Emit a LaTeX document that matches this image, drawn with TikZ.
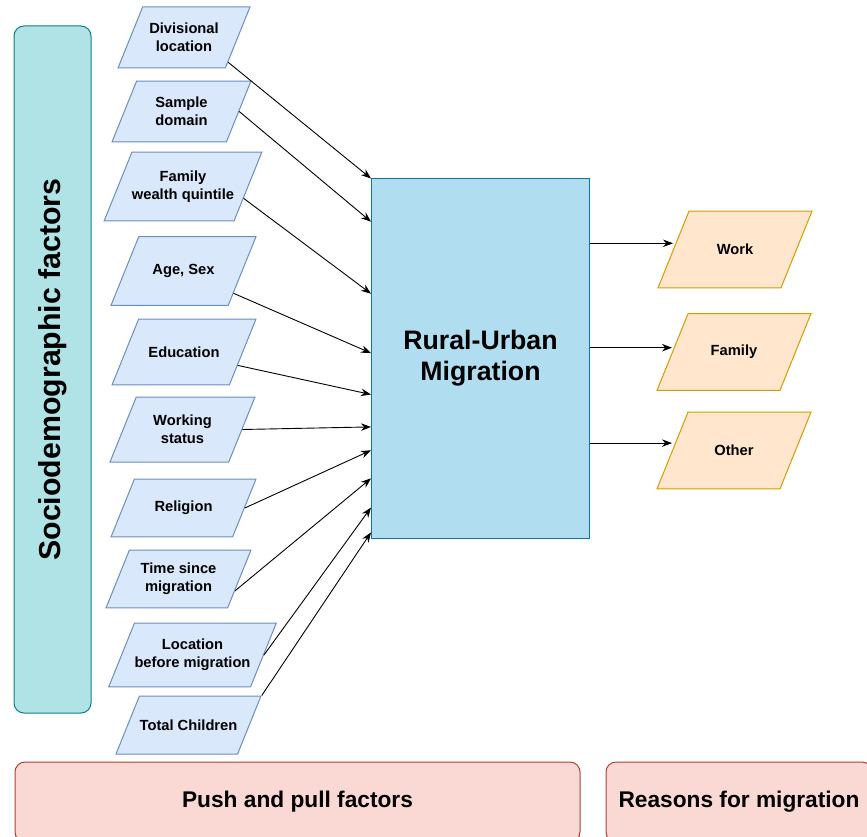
\documentclass[tikz,border=0pt]{standalone}
\usepackage{fontspec}
\setmainfont{Liberation Sans}
\usetikzlibrary{calc,shapes.geometric,arrows.meta}
\definecolor{socfill}{HTML}{B0E3E6}
\definecolor{socline}{HTML}{0E8088}
\definecolor{facfill}{HTML}{DAE8FC}
\definecolor{facline}{HTML}{6C8EBF}
\definecolor{rumfill}{HTML}{B1DDF0}
\definecolor{rumline}{HTML}{10739E}
\definecolor{rsnfill}{HTML}{FFE6CC}
\definecolor{rsnline}{HTML}{D79B00}
\definecolor{ppfill}{HTML}{FAD9D5}
\definecolor{ppline}{HTML}{AE4132}
\newcommand\smallbf{\fontsize{14.7}{17.6}\selectfont\bfseries}
\newcommand\midbf{\fontsize{22.7}{27}\selectfont\bfseries}
\newcommand\bigbf{\fontsize{26.7}{31}\selectfont\bfseries}
\newcommand\sidebf{\fontsize{30.3}{36}\selectfont\bfseries}
\tikzset{
	para/.style={trapezium, trapezium left angle=68, trapezium right angle=112,
		trapezium stretches body, line width=1pt, align=center, font=\smallbf,
		inner xsep=0pt},
	factor/.style={para, draw=facline, fill=facfill, minimum width=145pt},
	reason/.style={para, draw=rsnline, fill=rsnfill, minimum width=154pt},
	group/.style={draw, rounded corners=10pt, line width=1pt},
	arr/.style={line width=0.9pt, -{Stealth[length=10pt,width=7.5pt]}}
}
\begin{document}
\begin{tikzpicture}[x=1pt,y=-1pt]
		%%%%% START %%%%%
		\useasboundingbox (0,0) rectangle (867,837);
		
		\node[group, draw=socline, fill=socfill, rotate=90, minimum width=687pt, minimum height=77pt, font=\sidebf] (soc) at (52.5, 369.5) {Sociodemographic factors};
		
		\node[factor, minimum width=132pt, inner ysep=16.3pt] (div) at (184, 37.5) {Divisional\\location};
		\node[factor, minimum width=139pt, inner ysep=16.3pt] (smp) at (181.5, 111.5) {Sample\\domain};
		\node[factor, minimum width=144pt, inner ysep=18.8pt] (fam) at (183, 186.5) {Family\\wealth quintile};
		\node[factor, inner ysep=27.7pt] (age) at (183.5, 271) {Age, Sex};
		\node[factor, minimum width=144pt, inner ysep=27.6pt] (edu) at (184, 352) {Education};
		\node[factor, inner ysep=18.3pt] (wrs) at (182.5, 429.5) {Working\\status};
		\node[factor, inner ysep=22.1pt] (rel) at (183.5, 508) {Religion};
		\node[factor, inner ysep=13.3pt] (tsm) at (178.5, 579) {Time since\\migration};
		\node[factor, minimum width=161pt, inner ysep=16.3pt] (lbm) at (192.5, 655) {Location\\before migration};
		\node[factor, inner ysep=23.6pt] (tch) at (188.5, 725) {Total Children};
		
		\node[draw=rumline, fill=rumfill, line width=1pt, minimum width=218pt, minimum height=359pt, align=center, font=\bigbf] (rum) at (480.5, 358.5) {Rural-Urban\\Migration};
		
		\node[reason, inner ysep=33pt] (wrk) at (735, 249.5) {Work};
		\node[reason, inner ysep=31.6pt] (fly) at (734, 352) {Family};
		\node[reason, inner ysep=33pt] (oth) at (734, 450.5) {Other};
		
		\node[group, draw=ppline, fill=ppfill, minimum width=565pt, minimum height=80pt, font=\midbf] (ppf) at (297.5, 802) {Push and pull factors};
		\node[group, draw=ppline, fill=ppfill, minimum width=266pt, minimum height=80pt, font=\midbf] (rfm) at (739, 802) {Reasons for migration};
		
		\foreach \src/\s/\t in {div/0.1/0, smp/0.5/0.12, fam/0.33/0.32, age/0.18/0.485, edu/0.3/0.6, wrs/0.5/0.69, rel/0.5/0.755, tsm/0.3/0.833, lbm/0.5/0.914, tch/1/0.983}
			\draw[arr] ($(\src.bottom right corner)!\s!(\src.top right corner)$) -- ($(rum.north west)!\t!(rum.south west)$);
		
		\coordinate (o1) at ($(rum.north east)!0.18!(rum.south east)$);
		\coordinate (o2) at ($(rum.north east)!0.47!(rum.south east)$);
		\coordinate (o3) at ($(rum.north east)!0.735!(rum.south east)$);
		\draw[arr] (o1) -- (o1 -| wrk.west);
		\draw[arr] (o2) -- (o2 -| fly.west);
		\draw[arr] (o3) -- (o3 -| oth.west);
		
		%%%%% END %%%%%
	\end{tikzpicture}
\end{document}
